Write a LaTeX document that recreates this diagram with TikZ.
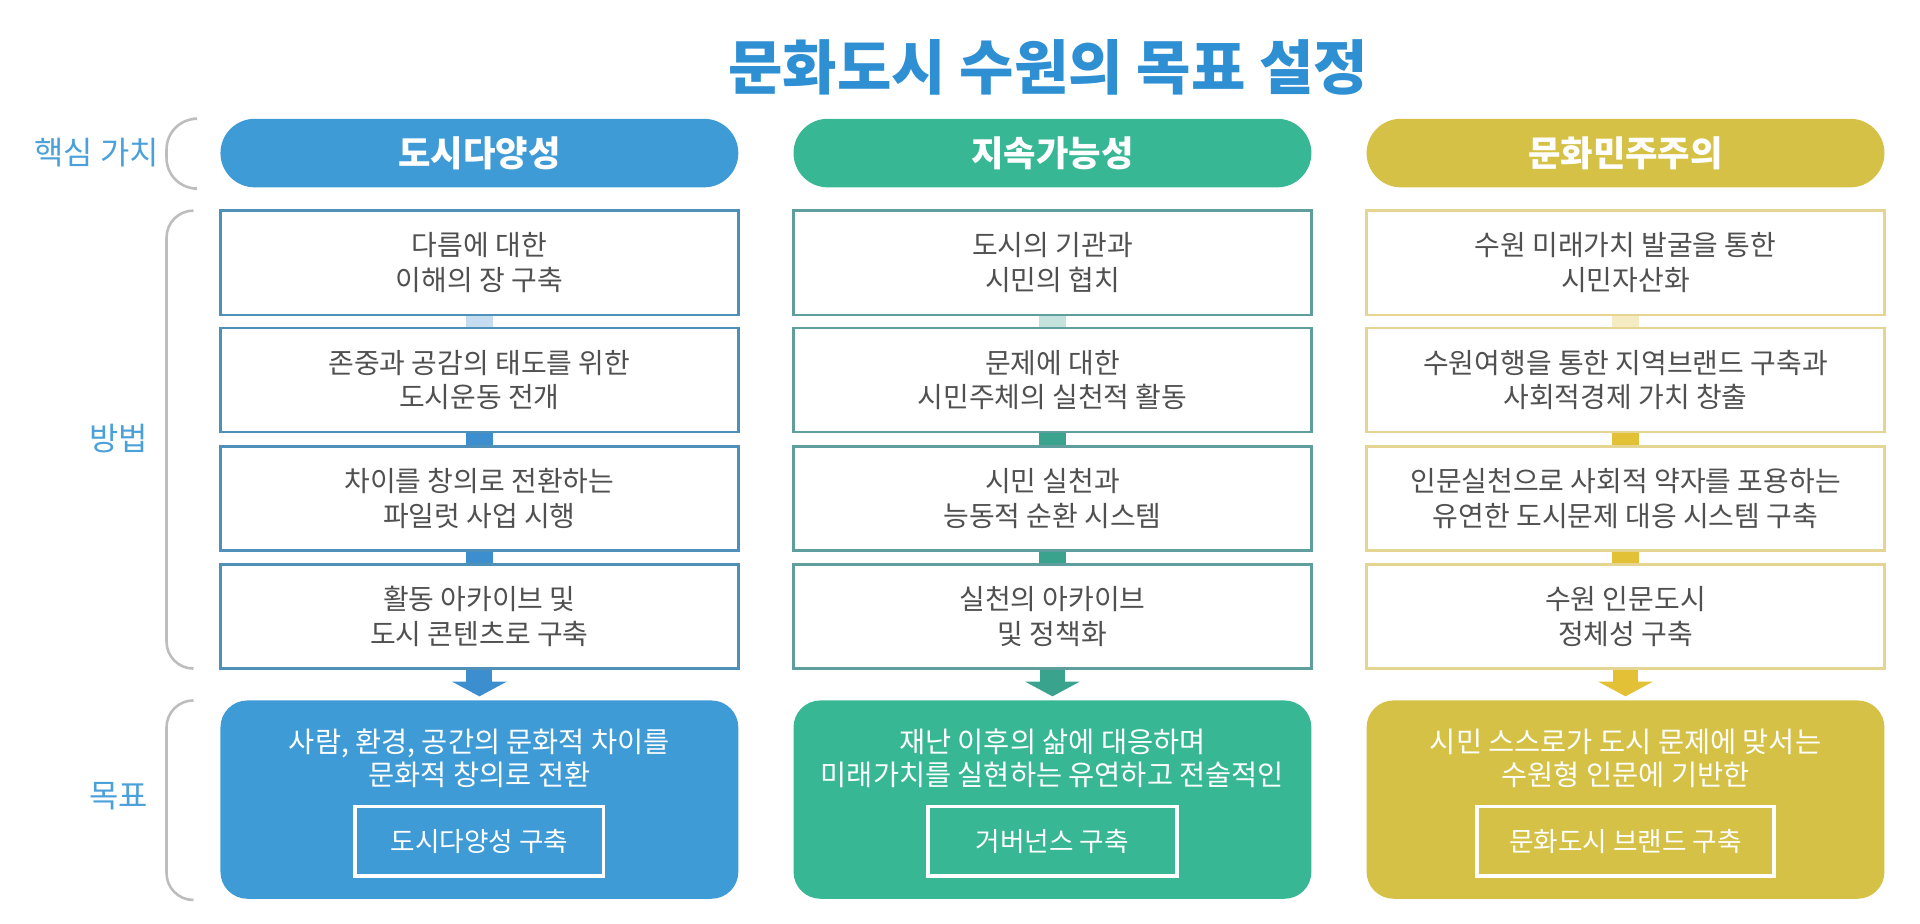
\documentclass[tikz,border=0pt]{standalone}
\usepackage{fontspec}
\setmainfont{Noto Sans CJK KR}
\usetikzlibrary{positioning, arrows.meta, calc}

\definecolor{titleblue}{HTML}{2E8FD3}
\definecolor{labelblue}{HTML}{4AA0D8}
\definecolor{diversity}{HTML}{3F9BD6}
\definecolor{sustain}{HTML}{38B795}
\definecolor{democracy}{HTML}{D6C147}
\definecolor{diversityline}{HTML}{4F90B9}
\definecolor{sustainline}{HTML}{5E9E9C}
\definecolor{democracyline}{HTML}{E6D592}
\definecolor{diversitybar}{HTML}{3D8ECF}
\definecolor{sustainbar}{HTML}{39A38E}
\definecolor{democracybar}{HTML}{E2C136}
\definecolor{boxtext}{HTML}{505050}
\definecolor{braceline}{HTML}{BDBDBD}

\begin{document}
\begin{tikzpicture}[x=0.02cm, y=-0.02cm]
      \tikzset{value pill/.style={fill=#1,
          rounded corners=0.56cm,
          minimum width=8.46cm,
          minimum height=1.12cm,
          inner sep=0pt,
          text=white,
          font=\fontsize{16.4}{18}\selectfont\bfseries},
        method box/.style={draw=#1,
          fill=white,
          line width=1.1pt,
          minimum width=8.46cm,
          minimum height=1.7cm,
          inner sep=0pt,
          align=center,
          text=boxtext,
          font=\fontsize{13}{16}\selectfont},
        goal box/.style={fill=#1,
          rounded corners=0.44cm,
          minimum width=8.46cm,
          minimum height=3.24cm,
          inner sep=0pt},
        goal text/.style={align=center,
          text=white,
          inner sep=0pt,
          font=\fontsize{13.2}{15.5}\selectfont},
        goal tag/.style={draw=white,
          line width=1.7pt,
          minimum height=1.14cm,
          inner sep=0pt,
          text=white,
          font=\fontsize{12.4}{14}\selectfont},
        link bar/.style={draw=#1, line width=12.5pt},
        goal arrow/.style={draw=#1,
          line width=12pt,
          -{Triangle[width=25pt, length=6.8pt, fill=#1]},
          shorten >=1.7pt},
        side label/.style={text=labelblue,
          inner sep=0pt,
          font=\fontsize{14.8}{16}\selectfont},
        brace line/.style={draw=braceline, line width=1.2pt}
      }
      \useasboundingbox (0,0) rectangle (1568,754);

      \node [text=titleblue, font=\fontsize{27.5}{30}\selectfont\bfseries] (title) at (856,55) {문화도시 수원의 목표 설정};

      % left side labels
      \node [side label, anchor=east] (core) at (130,125) {핵심 가치};
      \node [side label] (method) at (97,358) {방법};
      \node [side label] (goal) at (97,650) {목표};
      \draw [brace line, rounded corners=0.5cm] (158,97) -- (136,97) -- (136,154) -- (158,154);
      \draw [brace line, rounded corners=0.44cm] (158,172) -- (136,172) -- (136,546) -- (158,546);
      \draw [brace line, rounded corners=0.44cm] (158,572) -- (136,572) -- (136,735) -- (158,735);

      % core values
      \node [value pill=diversity] (v1) at (391.5,125) {도시다양성};
      \node [value pill=sustain] (v2) at (859.5,125) {지속가능성};
      \node [value pill=democracy] (v3) at (1327.5,125) {문화민주주의};

      % methods, first column
      \node [method box=diversityline] (m11) at (391.5,214.5) {다름에 대한\\이해의 장 구축};
      \node [method box=diversityline] (m12) at (391.5,310.5) {존중과 공감의 태도를 위한\\도시운동 전개};
      \node [method box=diversityline] (m13) at (391.5,407) {차이를 창의로 전환하는\\파일럿 사업 시행};
      \node [method box=diversityline] (m14) at (391.5,503.5) {활동 아카이브 및\\도시 콘텐츠로 구축};
      \draw [link bar=diversitybar!30] (m11.south) -- (m12.north);
      \draw [link bar=diversitybar] (m12.south) -- (m13.north);
      \draw [link bar=diversitybar] (m13.south) -- (m14.north);

      % methods, second column
      \node [method box=sustainline] (m21) at (859.5,214.5) {도시의 기관과\\시민의 협치};
      \node [method box=sustainline] (m22) at (859.5,310.5) {문제에 대한\\시민주체의 실천적 활동};
      \node [method box=sustainline] (m23) at (859.5,407) {시민 실천과\\능동적 순환 시스템};
      \node [method box=sustainline] (m24) at (859.5,503.5) {실천의 아카이브\\및 정책화};
      \draw [link bar=sustainbar!30] (m21.south) -- (m22.north);
      \draw [link bar=sustainbar] (m22.south) -- (m23.north);
      \draw [link bar=sustainbar] (m23.south) -- (m24.north);

      % methods, third column
      \node [method box=democracyline] (m31) at (1327.5,214.5) {수원 미래가치 발굴을 통한\\시민자산화};
      \node [method box=democracyline] (m32) at (1327.5,310.5) {수원여행을 통한 지역브랜드 구축과\\사회적경제 가치 창출};
      \node [method box=democracyline] (m33) at (1327.5,407) {인문실천으로 사회적 약자를 포용하는\\유연한 도시문제 대응 시스템 구축};
      \node [method box=democracyline] (m34) at (1327.5,503.5) {수원 인문도시\\정체성 구축};
      \draw [link bar=democracybar!30] (m31.south) -- (m32.north);
      \draw [link bar=democracybar] (m32.south) -- (m33.north);
      \draw [link bar=democracybar] (m33.south) -- (m34.north);

      % goals
      \node [goal box=diversity] (g1) at (391.5,653) {};
      \node [goal box=sustain] (g2) at (859.5,653) {};
      \node [goal box=democracy] (g3) at (1327.5,653) {};
      \draw [goal arrow=diversitybar] (m14.south) -- (g1.north);
      \draw [goal arrow=sustainbar] (m24.south) -- (g2.north);
      \draw [goal arrow=democracybar] (m34.south) -- (g3.north);

      \node [goal text] (g1t) at (391.5,619.5) {사람, 환경, 공간의 문화적 차이를\\문화적 창의로 전환};
      \node [goal text] (g2t) at (859.5,619.5) {재난 이후의 삶에 대응하며\\미래가치를 실현하는 유연하고 전술적인};
      \node [goal text] (g3t) at (1327.5,619.5) {시민 스스로가 도시 문제에 맞서는\\수원형 인문에 기반한};
      \node [goal tag, minimum width=4.06cm] (g1k) at (391.5,687) {도시다양성 구축};
      \node [goal tag, minimum width=4.06cm] (g2k) at (859.5,687) {거버넌스 구축};
      \node [goal tag, minimum width=4.86cm] (g3k) at (1327.5,687) {문화도시 브랜드 구축};

    \end{tikzpicture}
\end{document}
